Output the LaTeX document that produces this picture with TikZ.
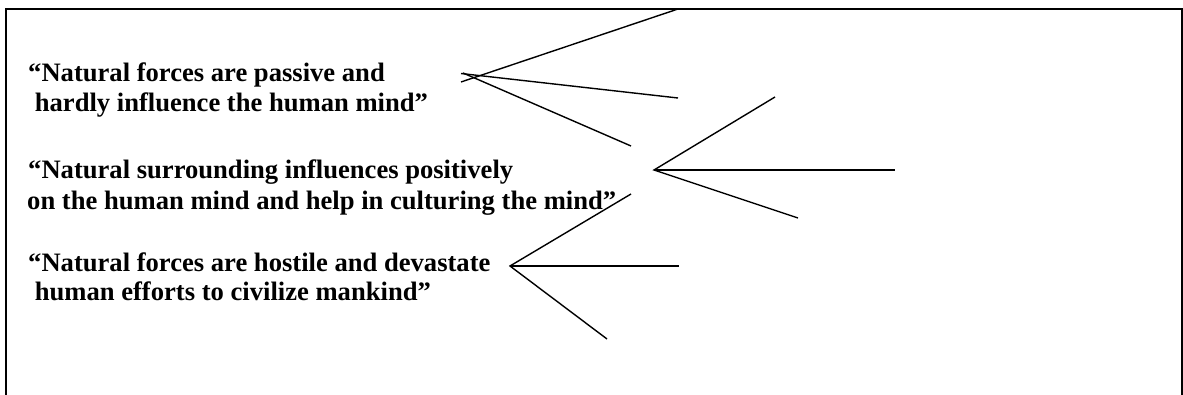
\documentclass[tikz,border=0pt]{standalone}
\usepackage{fontspec}
\setmainfont{Liberation Serif}
\begin{document}
\begin{tikzpicture}[x=1pt,y=-1pt,
  txt/.style={anchor=base west,inner sep=0pt,font=\fontsize{26.6}{30}\selectfont\bfseries},
  frame/.style={line width=2pt},
  ray/.style={line width=1.4pt}]
\useasboundingbox (0,0) rectangle (1183,395);
\draw[frame] (6,396) -- (6,9) -- (1181.5,9) -- (1181.5,396);
% text lines
\node[txt] (a1) at (28,82) {“Natural forces are passive and};
\node[txt] (a2) at (28,112) {\ hardly influence the human mind”};
\node[txt] (b1) at (28,179) {“Natural surrounding influences positively};
\node[txt] (b2) at (27,210) {on the human mind and help in culturing the mind”};
\node[txt] (c1) at (28,272) {“Natural forces are hostile and devastate};
\node[txt] (c2) at (28,301) {\ human efforts to civilize mankind”};
% fan 1
\coordinate (f1a) at (461,82);
\coordinate (f1b) at (461,73.5);
\coordinate (f1c) at (463,73);
\coordinate (f1t) at (678,9);
\coordinate (f1m) at (678,98);
\coordinate (f1l) at (631,146);
\draw[ray] (f1a) -- (f1t);
\draw[ray] (f1b) -- (f1m);
\draw[ray] (f1c) -- (f1l);
% fan 2
\coordinate (f2v) at (654,170);
\coordinate (f2t) at (775,97);
\coordinate (f2m) at (895,170);
\coordinate (f2l) at (798,218);
\draw[ray] (f2t) -- (f2v) -- (f2l);
\draw[ray] (f2v) -- (f2m);
% fan 3
\coordinate (f3v) at (510,266);
\coordinate (f3t) at (631,194);
\coordinate (f3m) at (679,266);
\coordinate (f3l) at (607,339);
\draw[ray] (f3t) -- (f3v) -- (f3l);
\draw[ray] (f3v) -- (f3m);
\end{tikzpicture}
\end{document}
